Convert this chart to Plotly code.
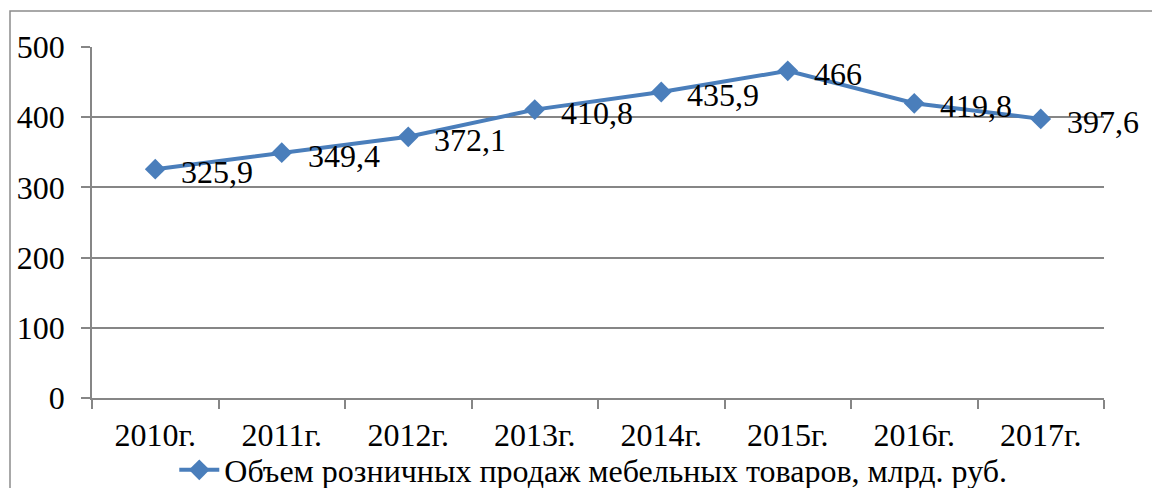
import plotly.graph_objects as go

categories = ["2010г.", "2011г.", "2012г.", "2013г.", "2014г.", "2015г.", "2016г.", "2017г."]
values = [325.9, 349.4, 372.1, 410.8, 435.9, 466, 419.8, 397.6]
labels = ["325,9", "349,4", "372,1", "410,8", "435,9", "466", "419,8", "397,6"]
series_name = "Объем розничных продаж мебельных товаров, млрд. руб."

FONT = "Liberation Serif"
FS = 32
BLUE = "#4A7EBB"
GRID = "#868686"

W, H = 1152, 488
ML, MR, MT, MB = 92, 48, 47, 90
PW, PH = W - ML - MR, H - MT - MB

fig = go.Figure()
fig.add_trace(go.Scatter(
    x=categories, y=values, mode="lines+markers", name=series_name,
    line=dict(color=BLUE, width=4),
    marker=dict(symbol="diamond", size=16, color=BLUE),
))

for c, v, t in zip(categories, values, labels):
    fig.add_annotation(x=c, y=v, text=t, showarrow=False, xanchor="left",
                       yanchor="middle", xshift=24, yshift=-3,
                       font=dict(family="Times New Roman", size=FS, color="black"))

# outer chart border
fig.add_shape(type="rect", xref="paper", yref="paper",
              x0=(10 - ML) / PW, x1=(1160 - ML) / PW,
              y0=(H - MB - 500) / PH, y1=(H - MB - 11) / PH,
              line=dict(color="#8c8c8c", width=1.5), layer="below")

fig.update_layout(
    width=W, height=H,
    margin=dict(l=ML, r=MR, t=MT, b=MB, autoexpand=False),
    paper_bgcolor="white", plot_bgcolor="white",
    font=dict(family=FONT, size=FS, color="black"),
    showlegend=True,
    legend=dict(orientation="h", x=0.515, xanchor="center", xref="container",
                y=1 - 470 / H, yanchor="middle", yref="container",
                font=dict(family=FONT, size=FS, color="black"),
                itemwidth=40, bgcolor="rgba(0,0,0,0)"),
    xaxis=dict(type="category", range=[-0.5, 7.5], showline=True, linecolor=GRID,
               linewidth=1.5, ticks="outside", ticklen=9, tickcolor=GRID,
               tickwidth=1.5, tickson="boundaries", showgrid=False, automargin=False,
               tickfont=dict(family=FONT, size=FS), ticklabelstandoff=8),
    yaxis=dict(range=[0, 500], tickvals=[0, 100, 200, 300, 400, 500],
               showline=True, linecolor=GRID, linewidth=1.5, automargin=False,
               ticks="outside", ticklen=9, tickcolor=GRID, tickwidth=1.5,
               showgrid=True, gridcolor=GRID, gridwidth=1.5, zeroline=False,
               tickfont=dict(family="serif", size=FS), ticklabelstandoff=10),
)

fig.write_html("out.html", config={"displayModeBar": False},
               post_script="document.body.style.margin='0';")
